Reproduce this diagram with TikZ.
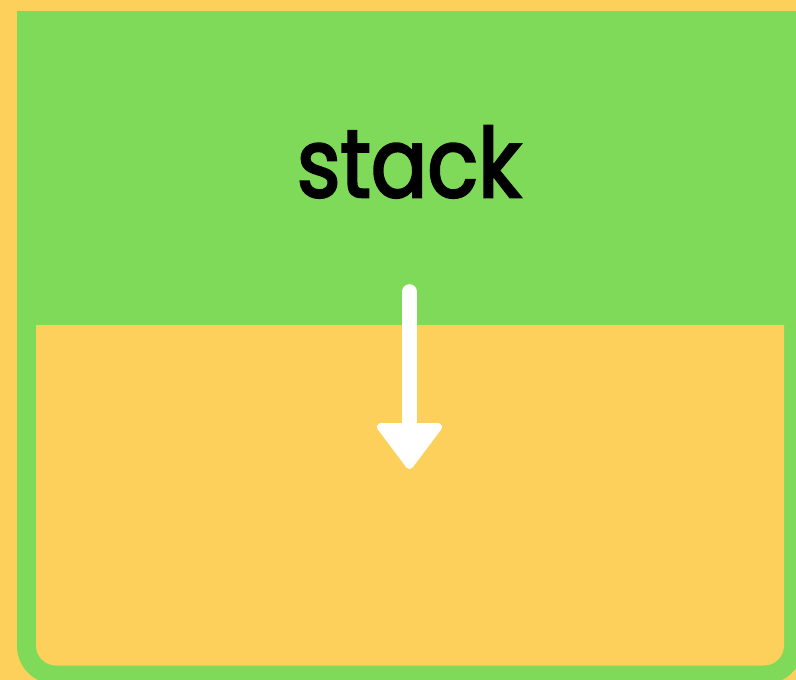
\documentclass[tikz,border=0pt]{standalone}
\usepackage{fontspec}
\setmainfont[FakeStretch=0.87, FakeBold=2.6]{Poppins}
\definecolor{ylw}{HTML}{FCD05A}
\definecolor{grn}{HTML}{80DA5A}
\tikzset{
  wall/.style={fill=grn},
  pit/.style={fill=ylw},
  label/.style={font=\fontsize{96}{96}\selectfont, inner sep=0pt, anchor=base},
  flow/.style={draw=white, line width=15.6pt, line cap=round},
  flowhead/.style={fill=white, draw=white, line width=8pt, line join=round}
}
\begin{document}
\begin{tikzpicture}[x=1pt,y=-1pt]
\fill[ylw] (0,0) rectangle (796,680);
\useasboundingbox (0,0) rectangle (796,680);
\begin{scope}
  \clip (0,11) rectangle (796,680);
  \path[wall, rounded corners=38pt] (17,-100) rectangle (803,684);
\end{scope}
\begin{scope}
  \clip (0,325) rectangle (796,680);
  \path[pit, rounded corners=20pt] (36,200) rectangle (784,665.5);
\end{scope}
\node[label] (t) at (409,197) {stack};
\coordinate (a0) at (409.5,292);
\coordinate (a1) at (409.5,432);
\draw[flow] (a0) -- (a1);
\path[flowhead] (381,427) -- (438,427) -- (409.5,465) -- cycle;
\end{tikzpicture}
\end{document}
